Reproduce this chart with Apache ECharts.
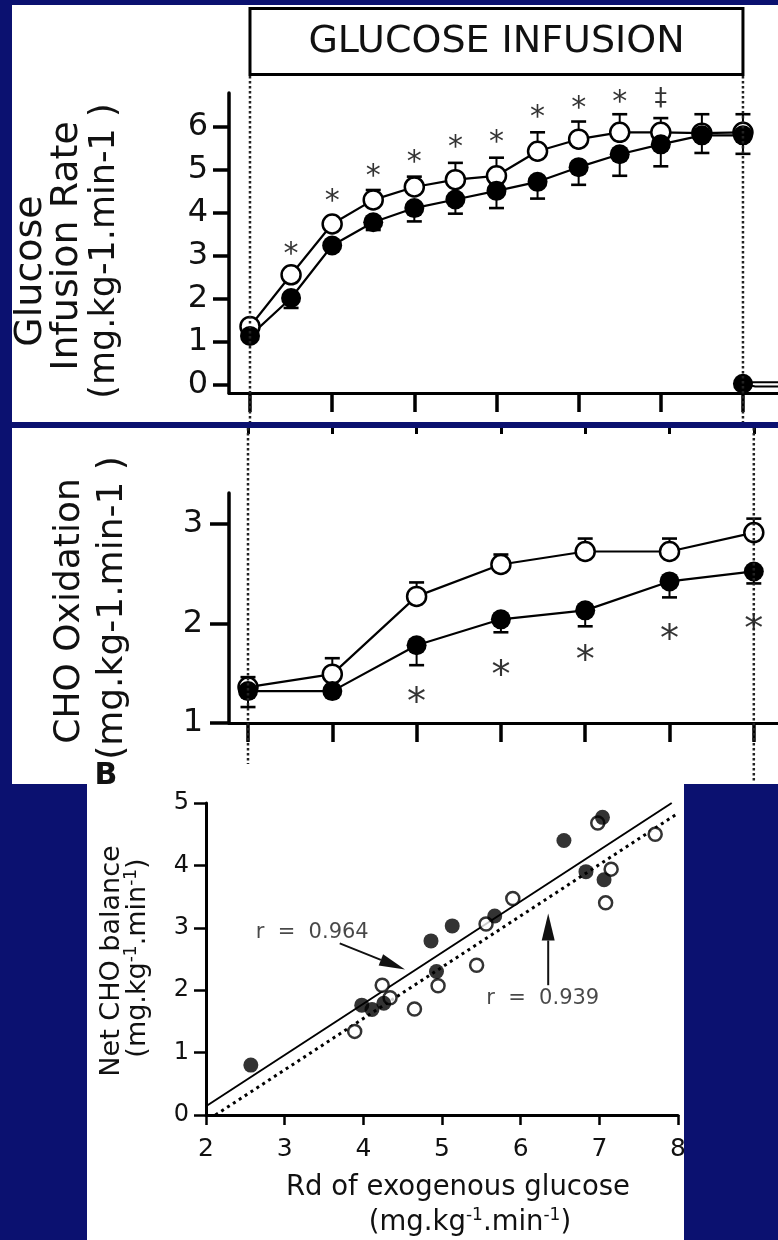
<!DOCTYPE html>
<html><head><meta charset="utf-8">
<script src="https://cdn.jsdelivr.net/npm/echarts@6/dist/echarts.min.js"></script>
<style>html,body{margin:0;padding:0;background:#0b1170;}#c{width:778px;height:1240px;}</style>
</head><body><div id="c"></div>
<script>
// ---------- Panel 1: Glucose infusion rate (x = time index, tick every 2 steps)
const giTime = [0,1,2,3,4,5,6,7,8,9,10,11,12];
const giOpen = [1.36,2.56,3.74,4.30,4.60,4.77,4.86,5.43,5.71,5.87,5.87,5.85,5.87];
const giOpenCapTop = [null,null,null,4.53,4.84,5.16,5.28,5.87,6.12,6.29,6.20,6.29,6.29];
const giFilled = [1.14,2.02,3.24,3.78,4.11,4.31,4.51,4.72,5.06,5.36,5.59,5.80,5.80];
const giFilledCapBottom = [null,1.79,null,3.60,3.80,3.98,4.11,4.33,4.65,4.86,5.08,5.39,5.37];
const giPostTime = [12, 12.3, 14];
const giOpenPost = [0.065, 0.065, 0.065];
const giFilledPost = [0.03, -0.035, -0.035];
const giMarks = ['', '*','*','*','*','*','*','*','*','*','\u2021','',''];
const giMarkY = [null,3.17,4.41,4.99,5.32,5.67,5.78,6.37,6.58,6.70,6.66,null,null];
const giYTicks = [0,1,2,3,4,5,6];
const giXTicks = [0,2,4,6,8,10,12];

// ---------- Panel 2: CHO oxidation
const choTime = [0,1,2,3,4,5,6];
const choOpen = [1.36,1.49,2.27,2.59,2.72,2.72,2.91];
const choOpenCapTop = [1.46,1.65,2.41,2.69,2.85,2.85,3.05];
const choFilled = [1.32,1.32,1.78,2.04,2.13,2.42,2.52];
const choFilledCapBottom = [1.16,null,1.58,1.91,1.97,2.26,2.40];
const choMarks = ['','','*','*','*','*','*'];
const choMarkY = [null,null,1.28,1.55,1.70,1.91,2.01];
const choYTicks = [1,2,3];
const choXTicks = [0,1,2,3,4,5,6];

// ---------- Panel B: Net CHO balance vs Rd of exogenous glucose
const rdFilled  = [2.57,3.98,4.11,4.26,4.86,4.93,5.13,5.67,6.55,6.83,7.04,7.06];
const netFilled = [0.80,1.76,1.69,1.79,2.79,2.30,3.03,3.19,4.40,3.90,4.77,3.77];
const rdOpen    = [3.89,4.24,4.34,4.65,4.95,5.44,5.56,5.90,6.98,7.15,7.08,7.71];
const netOpen   = [1.34,2.08,1.88,1.70,2.07,2.40,3.06,3.47,4.68,3.94,3.40,4.50];
const fitFilledX = [2.0, 7.92], fitFilledY = [0.14, 5.0];
const fitOpenX = [2.12, 7.98], fitOpenY = [0.0, 4.82];
const rTexts = ['r  =  0.964', 'r  =  0.939'];
const rTextX = [3.35, 6.28], rTextY = [2.92, 1.86];
const arrowFromX = [3.70, 6.35], arrowFromY = [2.75, 2.08];
const arrowToX = [4.53, 6.35], arrowToY = [2.33, 3.23];

const FONT = 'DejaVu Sans';
const INK = '#111';
const chart = echarts.init(document.getElementById('c'), null, {renderer:'canvas'});

const zip = (xs, ys) => xs.map((x,i)=>[x, ys[i]]);
const errData = (xs, m, c) => xs.map((x,i)=>[x, m[i], c[i]]).filter(d=>d[2]!=null);
const markData = (xs, ys, t, dagSize) => xs.map((x,i)=>({value:[x, ys[i]], name:t[i]}))
  .filter(d=>d.value[1]!=null && d.name).map(d=>{
    if (d.name==='\u2021') d.label = {fontSize:dagSize, offset:[0,0]};
    return d;});

function errBar(capHalf, lw){
  return function(params, api){
    const x = api.value(0), m = api.value(1), c = api.value(2);
    const p0 = api.coord([x,m]), p1 = api.coord([x,c]);
    return {type:'group', children:[
      {type:'line', shape:{x1:p0[0],y1:p0[1],x2:p1[0],y2:p1[1]}, style:{stroke:'#000',lineWidth:lw}},
      {type:'line', shape:{x1:p1[0]-capHalf,y1:p1[1],x2:p1[0]+capHalf,y2:p1[1]}, style:{stroke:'#000',lineWidth:lw+0.6}}
    ]};
  };
}
const openStyle = {color:'#fff', borderColor:'#000', borderWidth:2.5};
const filledStyle = {color:'#000', borderColor:'#000', borderWidth:0};
function lineSeries(data, ax, filled, size, lw, extra){
  return Object.assign({type:'line', xAxisIndex:ax, yAxisIndex:ax, data, symbol:'circle', symbolSize:size,
    showSymbol:true, itemStyle: filled?filledStyle:openStyle, lineStyle:{color:'#000', width:lw}, z:3}, extra||{});
}
function markSeries(data, ax, fs, off){
  return {type:'scatter', xAxisIndex:ax, yAxisIndex:ax, data, symbol:'circle', symbolSize:1,
    itemStyle:{color:'rgba(0,0,0,0)'}, z:4,
    label:{show:true, position:'inside', formatter:'{b}', color:'#000', fontFamily:FONT, fontSize:fs, offset:[0,off]}};
}
const axLine = w => ({show:true, onZero:false, lineStyle:{color:'#000', width:w}});

// post-infusion: only the first point carries a marker
const postData = (ys) => giPostTime.map((x,i)=> i===0 ? [x, ys[i]] : {value:[x, ys[i]], symbol:'none'});

const option = {
  animation:false,
  backgroundColor:'#0b1170',
  grid:[
    {left:229, width:549, top:93, height:300},
    {left:229, width:549, top:493, height:230},
    {left:229, width:549, top:426, height:2},
    {left:206, width:472, top:803, height:312}
  ],
  xAxis:[
    {gridIndex:0, type:'value', min:-0.511, max:12.853, axisLine:axLine(3),
      axisTick:{customValues:giXTicks, length:19, lineStyle:{color:'#000', width:3.5}},
      axisLabel:{show:false}, splitLine:{show:false}},
    {gridIndex:1, type:'value', min:-0.2254, max:6.287, axisLine:axLine(3),
      axisTick:{customValues:choXTicks, length:19, lineStyle:{color:'#000', width:3.5}},
      axisLabel:{show:false}, splitLine:{show:false}},
    {gridIndex:2, type:'value', min:-0.2254, max:6.287, axisLine:{show:false},
      axisTick:{customValues:choXTicks, length:6, lineStyle:{color:'#000', width:3}},
      axisLabel:{show:false}, splitLine:{show:false}},
    {gridIndex:3, type:'value', min:2, max:8, interval:1, axisLine:axLine(3),
      axisTick:{length:10, lineStyle:{color:'#000', width:2.5}},
      axisLabel:{color:'#111', fontFamily:FONT, fontSize:25, lineHeight:25, margin:22},
      splitLine:{show:false}}
  ],
  yAxis:[
    {gridIndex:0, type:'value', min:-0.186, max:6.783, axisLine:axLine(3.5),
      axisTick:{customValues:giYTicks, length:16, lineStyle:{color:'#000', width:3.5}},
      axisLabel:{customValues:giYTicks, color:'#111', fontFamily:FONT, fontSize:32, margin:21},
      splitLine:{show:false}},
    {gridIndex:1, type:'value', min:1, max:3.307, axisLine:axLine(3.5),
      axisTick:{customValues:choYTicks, length:19, lineStyle:{color:'#000', width:3.5}},
      axisLabel:{customValues:choYTicks, color:'#111', fontFamily:FONT, fontSize:32, margin:26},
      splitLine:{show:false}},
    {gridIndex:2, type:'value', show:false, min:0, max:1},
    {gridIndex:3, type:'value', min:0, max:5, interval:1, axisLine:axLine(3),
      axisTick:{length:12, lineStyle:{color:'#000', width:2.5}},
      axisLabel:{color:'#111', fontFamily:FONT, fontSize:24, margin:17},
      splitLine:{show:false}}
  ],
  series:[
    // panel 1
    {type:'custom', xAxisIndex:0, yAxisIndex:0, renderItem:errBar(7.5,2), data:errData(giTime, giOpen, giOpenCapTop), encode:{x:0,y:[1,2]}, z:2},
    {type:'custom', xAxisIndex:0, yAxisIndex:0, renderItem:errBar(7.5,2), data:errData(giTime, giFilled, giFilledCapBottom), encode:{x:0,y:[1,2]}, z:2},
    lineSeries(postData(giOpenPost), 0, false, 19, 2, {showSymbol:false}),
    lineSeries(postData(giFilledPost), 0, true, 20, 2),
    lineSeries(zip(giTime, giOpen), 0, false, 19, 2.2),
    lineSeries(zip(giTime, giFilled), 0, true, 20, 2.2),
    markSeries(markData(giTime, giMarkY, giMarks, 25), 0, 30, 7),
    // panel 2
    {type:'custom', xAxisIndex:1, yAxisIndex:1, renderItem:errBar(7.5,2), data:errData(choTime, choOpen, choOpenCapTop), encode:{x:0,y:[1,2]}, z:2},
    {type:'custom', xAxisIndex:1, yAxisIndex:1, renderItem:errBar(7.5,2), data:errData(choTime, choFilled, choFilledCapBottom), encode:{x:0,y:[1,2]}, z:2},
    lineSeries(zip(choTime, choOpen), 1, false, 19, 2.2),
    lineSeries(zip(choTime, choFilled), 1, true, 20, 2.2),
    markSeries(markData(choTime, choMarkY, choMarks, 25), 1, 38, 9),
    // panel B
    {type:'line', xAxisIndex:3, yAxisIndex:3, data:zip(fitFilledX, fitFilledY), symbol:'none', lineStyle:{color:'#000', width:2}, z:2},
    {type:'line', xAxisIndex:3, yAxisIndex:3, data:zip(fitOpenX, fitOpenY), symbol:'none', lineStyle:{color:'#000', width:3, type:[3,4]}, z:2},
    {type:'scatter', xAxisIndex:3, yAxisIndex:3, data:zip(rdOpen, netOpen), symbol:'circle', symbolSize:13, itemStyle:openStyle, z:3},
    {type:'scatter', xAxisIndex:3, yAxisIndex:3, data:zip(rdFilled, netFilled), symbol:'circle', symbolSize:15, itemStyle:filledStyle, z:3},
    {type:'scatter', xAxisIndex:3, yAxisIndex:3, data:rTextX.map((x,i)=>({value:[x, rTextY[i]], name:rTexts[i]})),
      symbol:'circle', symbolSize:1, itemStyle:{color:'rgba(0,0,0,0)'}, z:4,
      label:{show:true, position:'inside', formatter:'{b}', color:'#1a1a1a', fontFamily:FONT, fontSize:21}}
  ]
};
chart.setOption(option);

// ---------- annotations placed through the chart's own coordinate conversion
const P = (g, v) => chart.convertToPixel({gridIndex:g}, v);
const txt = (x, y, text, size, rot, extra) => Object.assign({type:'text', x, y, rotation:rot||0, z:10,
  style:Object.assign({text, fill:INK, font: size+'px "'+FONT+'"', fontFamily:FONT, fontSize:size, align:'center', verticalAlign:'middle'}, extra||{})});
const vdot = (x, y1, y2) => ({type:'line', z:5, shape:{x1:x, y1, x2:x, y2}, style:{stroke:'#222', lineWidth:2.5, lineDash:[2.5,2.5]}});
const supRich = (size, lh) => ({a:{fontFamily:FONT, fontSize:size, fill:INK, lineHeight:lh}, s:{fontFamily:FONT, fontSize:Math.round(size*0.62), fill:INK, verticalAlign:'top', lineHeight:lh}});

const g0a = P(0,[0,0])[0], g0b = P(0,[12,0])[0];
const g1a = P(1,[0,1])[0], g1b = P(1,[6,1])[0];
const graphics = [
  {type:'rect', z:-100, shape:{x:12, y:5, width:766, height:417}, style:{fill:'#fff'}},
  {type:'rect', z:-100, shape:{x:12, y:428, width:766, height:356}, style:{fill:'#fff'}},
  {type:'rect', z:-100, shape:{x:87, y:784, width:597, height:456}, style:{fill:'#fff'}},
  {type:'rect', z:6, shape:{x:g0a, y:8.5, width:g0b-g0a, height:66}, style:{fill:'#fff', stroke:'#000', lineWidth:3}},
  txt((g0a+g0b)/2, 42, 'GLUCOSE INFUSION', 38),
  vdot(g0a, 76, 422), vdot(g0b, 76, 422),
  vdot(g1a, 428, 764), vdot(g1b, 428, 783),
  txt(31, 271, 'Glucose', 38, Math.PI/2),
  txt(67, 246, 'Infusion Rate', 38, Math.PI/2),
  txt(105, 251, '(mg.kg-1.min-1 )', 35, Math.PI/2),
  txt(70, 611, 'CHO Oxidation', 36, Math.PI/2),
  txt(113, 608, '(mg.kg-1.min-1 )', 36, Math.PI/2),
  txt(106, 776, 'B', 30, 0, {fontWeight:'bold', font:'bold 30px "'+FONT+'"'}),
  txt(112, 961, 'Net CHO balance', 27, Math.PI/2),
  txt(138, 958, '{a|(mg.kg}{s|-1}{a|.min}{s|-1}{a|)}', 27, Math.PI/2, {rich:supRich(27, 29)}),
  txt(458, 1188, 'Rd of exogenous glucose', 27.5),
  txt(470, 1223, '{a|(mg.kg}{s|-1}{a|.min}{s|-1}{a|)}', 27.5, 0, {rich:supRich(27.5, 31)})
];
// arrows
const headLen = [26, 27], headW = [12, 13];
arrowFromX.forEach((fx, i) => {
  const a = P(3, [fx, arrowFromY[i]]), b = P(3, [arrowToX[i], arrowToY[i]]);
  const dx = b[0]-a[0], dy = b[1]-a[1], L = Math.hypot(dx, dy), ux = dx/L, uy = dy/L;
  const bx = b[0]-ux*headLen[i], by = b[1]-uy*headLen[i];
  graphics.push({type:'line', z:5, shape:{x1:a[0], y1:a[1], x2:bx, y2:by}, style:{stroke:'#111', lineWidth:2}});
  graphics.push({type:'polygon', z:5, shape:{points:[[b[0],b[1]],[bx-uy*headW[i]/2, by+ux*headW[i]/2],[bx+uy*headW[i]/2, by-ux*headW[i]/2]]}, style:{fill:'#111'}});
});
chart.setOption({graphic:graphics});
</script></body></html>
